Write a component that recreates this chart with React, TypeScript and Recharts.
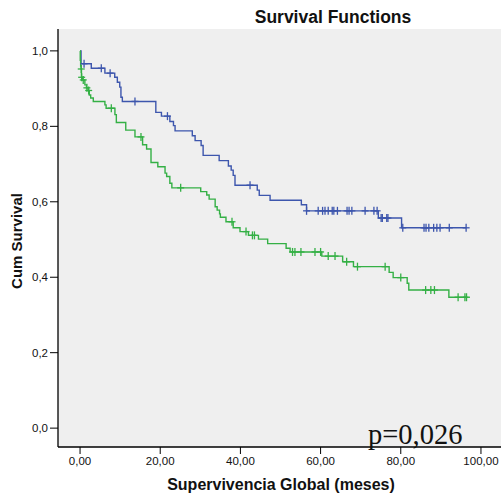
import {
  ComposedChart,
  Line,
  Scatter,
  XAxis,
  YAxis,
  CartesianGrid,
} from 'recharts'

// Kaplan-Meier steps (time in months, cumulative survival)
const blueT = [0, 0.25, 2.8, 6.2, 8.65, 9.3, 9.9, 10.2, 10.55, 18.9, 20.3, 22.4, 23.3, 23.7, 28.0, 28.7, 30.2, 30.7, 34.7, 37.0, 37.7, 38.2, 38.65, 44.2, 44.7, 47.4, 55.2, 56.5, 74.4, 80.2, 96.3]
const blueS = [1.0, 0.966, 0.954, 0.941, 0.93, 0.917, 0.904, 0.877, 0.866, 0.837, 0.827, 0.813, 0.802, 0.788, 0.775, 0.762, 0.749, 0.723, 0.709, 0.695, 0.684, 0.67, 0.644, 0.631, 0.617, 0.604, 0.592, 0.576, 0.557, 0.531, 0.531]
const blueCensored = [1.0, 5.3, 7.5, 13.7, 21.8, 42.4, 56.5, 59.4, 60.5, 61.1, 61.9, 62.9, 63.3, 64.2, 66.6, 67.1, 67.8, 71.1, 73.3, 74.1, 75.1, 75.4, 76.5, 76.8, 80.5, 85.8, 86.3, 87.0, 88.2, 89.0, 89.8, 92.1, 96.3]

const greenT = [0, 0.05, 0.15, 0.25, 0.35, 0.6, 1.2, 1.6, 2.0, 2.3, 2.65, 3.3, 6.2, 6.5, 8.7, 9.05, 11.4, 13.7, 15.6, 16.6, 17.7, 19.4, 21.2, 21.6, 22.4, 22.9, 30.1, 31.6, 32.2, 33.7, 34.2, 34.8, 35.0, 36.4, 38.2, 39.9, 42.0, 44.5, 46.8, 51.4, 52.4, 60.3, 65.5, 68.2, 77.1, 78.1, 81.6, 82.0, 92.0, 96.4]
const greenS = [1.0, 0.975, 0.96, 0.952, 0.93, 0.923, 0.91, 0.902, 0.895, 0.883, 0.875, 0.866, 0.857, 0.848, 0.831, 0.81, 0.79, 0.772, 0.751, 0.74, 0.704, 0.693, 0.676, 0.667, 0.649, 0.637, 0.627, 0.618, 0.607, 0.587, 0.578, 0.568, 0.559, 0.547, 0.531, 0.521, 0.511, 0.501, 0.489, 0.477, 0.467, 0.456, 0.441, 0.428, 0.413, 0.399, 0.384, 0.366, 0.347, 0.347]
const greenCensored = [0.3, 0.4, 0.8, 1.7, 2.15, 7.8, 15.2, 25.1, 37.9, 41.4, 43.0, 43.5, 53.0, 53.6, 55.1, 58.6, 60.0, 61.9, 63.6, 66.5, 69.2, 76.1, 80.0, 86.2, 87.5, 88.4, 94.3, 96.0, 96.4]

const xTicks = [0, 20, 40, 60, 80, 100]
const yTicks = [0, 0.2, 0.4, 0.6, 0.8, 1.0]

const BLUE = '#3d56ad'
const GREEN = '#34b045'

function steps(ts: number[], ss: number[]) {
  return ts.map((t, i) => ({ t, s: ss[i] }))
}

// place a censor mark on the curve at time t
function censorPoints(times: number[], ts: number[], ss: number[]) {
  return times.map((t) => {
    let s = ss[0]
    for (let i = 0; i < ts.length; i++) if (ts[i] <= t) s = ss[i]
    return { t, s }
  })
}

const blueLine = steps(blueT, blueS)
const greenLine = steps(greenT, greenS)
const blueMarks = censorPoints(blueCensored, blueT, blueS)
const greenMarks = censorPoints(greenCensored, greenT, greenS)

function plusShape(color: string) {
  return (props: any) => {
    const { cx, cy } = props
    return (
      <g>
        <line x1={cx} x2={cx} y1={cy - 4} y2={cy + 4} stroke={color} strokeWidth={1.3} />
        <line x1={cx - 3.5} x2={cx + 3.5} y1={cy} y2={cy} stroke={color} strokeWidth={1.3} />
      </g>
    )
  }
}

const tickFont = { fontFamily: 'Liberation Sans, Arial, sans-serif', fontSize: 11.5, fill: '#111' }

export default function App() {
  return (
    <div style={{ position: 'absolute', left: 0, top: 0, width: 501, height: 498, background: '#fff' }}>
      <ComposedChart width={501} height={498} margin={{ top: 29, right: 0, bottom: 21, left: 0 }}>
        <CartesianGrid fill="#efefef" stroke="none" horizontal={false} vertical={false} />
        <XAxis
          dataKey="t"
          type="number"
          domain={[-5.5, 105]}
          allowDataOverflow
          ticks={xTicks}
          tickFormatter={(v: number) => v.toFixed(2).replace('.', ',')}
          tick={tickFont}
          tickSize={7}
          tickMargin={3}
          height={30}
          axisLine={{ stroke: '#000', strokeWidth: 1.3 }}
          tickLine={{ stroke: '#000' }}
        />
        <XAxis
          xAxisId="top"
          orientation="top"
          type="number"
          domain={[-5.5, 105]}
          tick={false}
          tickLine={false}
          height={0}
          axisLine={{ stroke: '#000', strokeWidth: 1.3 }}
        />
        <YAxis
          dataKey="s"
          type="number"
          domain={[-0.05, 1.058]}
          allowDataOverflow
          ticks={yTicks}
          tickFormatter={(v: number) => v.toFixed(1).replace('.', ',')}
          tick={tickFont}
          tickSize={8}
          tickMargin={2}
          width={58}
          axisLine={{ stroke: '#000', strokeWidth: 1.3 }}
          tickLine={{ stroke: '#000' }}
        />

        <Line
          data={blueLine}
          dataKey="s"
          type="stepAfter"
          stroke={BLUE}
          strokeWidth={1.4}
          dot={false}
          activeDot={false}
          isAnimationActive={false}
        />
        <Scatter data={blueMarks} dataKey="s" shape={plusShape(BLUE)} isAnimationActive={false} />
        <Line
          data={greenLine}
          dataKey="s"
          type="stepAfter"
          stroke={GREEN}
          strokeWidth={1.4}
          dot={false}
          activeDot={false}
          isAnimationActive={false}
        />
        <Scatter data={greenMarks} dataKey="s" shape={plusShape(GREEN)} isAnimationActive={false} />
      </ComposedChart>

      {/* titles and annotation */}
      <svg
        width={501}
        height={498}
        style={{ position: 'absolute', left: 0, top: 0, pointerEvents: 'none' }}
      >
        <text
          x={333}
          y={22.5}
          textAnchor="middle"
          fontFamily="Liberation Sans, Arial, sans-serif"
          fontWeight="bold"
          fontSize={17.5}
          fill="#111"
        >
          Survival Functions
        </text>
        <text
          x={281}
          y={490}
          textAnchor="middle"
          fontFamily="Liberation Sans, Arial, sans-serif"
          fontWeight="bold"
          fontSize={16}
          fill="#111"
        >
          Supervivencia Global (meses)
        </text>
        <text
          transform="translate(22, 241) rotate(-90)"
          textAnchor="middle"
          fontFamily="Liberation Sans, Arial, sans-serif"
          fontWeight="bold"
          fontSize={15}
          fill="#111"
        >
          Cum Survival
        </text>
        <text x={368} y={444} fontFamily="Liberation Serif, Times New Roman, serif" fontSize={28.5} fill="#111">
          p=0,026
        </text>
      </svg>
    </div>
  )
}
